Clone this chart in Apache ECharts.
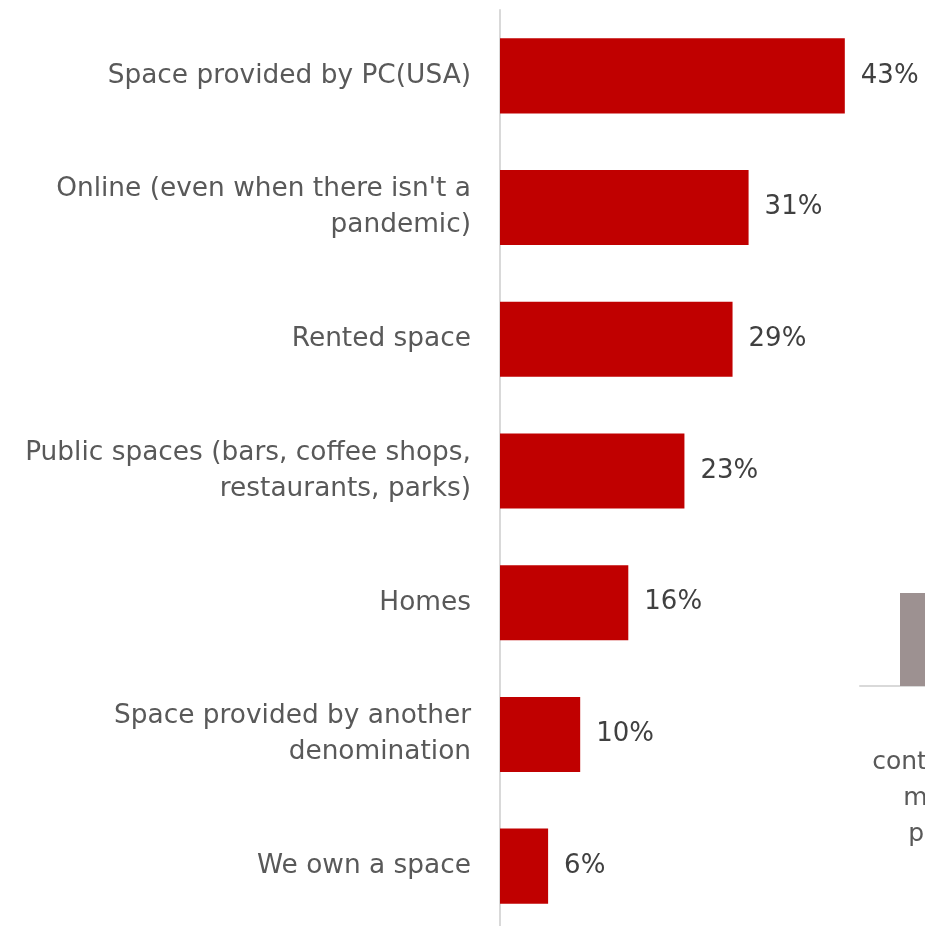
<!DOCTYPE html>
<html>
<head>
<meta charset="utf-8">
<script src="https://cdn.jsdelivr.net/npm/echarts@6/dist/echarts.min.js"></script>
<style>
  html, body { margin: 0; padding: 0; background: #ffffff; }
  #chart { width: 925px; height: 926px; }
</style>
</head>
<body>
<div id="chart"></div>
<script>
// Where worshiping communities meet
const categories = [
  'Space provided by PC(USA)',
  "Online (even when there isn't a\npandemic)",
  'Rented space',
  'Public spaces (bars, coffee shops,\nrestaurants, parks)',
  'Homes',
  'Space provided by another\ndenomination',
  'We own a space'
];
const shares = [43, 31, 29, 23, 16, 10, 6];

// Neighbouring panel, running off the right edge
const sideCategories = ['continued to\nmeet in\nperson'];
const sideValues = [25];

const FONT = '"DejaVu Sans", "Liberation Sans", sans-serif';

const chart = echarts.init(document.getElementById('chart'), null, { renderer: 'canvas' });

chart.setOption({
  animation: false,
  backgroundColor: '#ffffff',
  grid: [
    { left: 500, top: 10, width: 425, height: 922, containLabel: false, outerBoundsMode: 'none' },
    { left: 860, top: 500, width: 182, height: 186, containLabel: false, outerBoundsMode: 'none' }
  ],
  xAxis: [
    {
      gridIndex: 0, type: 'value', min: 0, max: 53,
      show: false
    },
    {
      gridIndex: 1, type: 'category', data: sideCategories,
      axisLine: { show: true, lineStyle: { color: '#d9d9d9', width: 2 } },
      axisTick: { show: false },
      axisLabel: {
        color: '#595959', fontFamily: FONT, fontSize: 25, lineHeight: 36,
        margin: 58, interval: 0
      }
    }
  ],
  yAxis: [
    {
      gridIndex: 0, type: 'category', data: categories, inverse: true,
      axisLine: { show: true, lineStyle: { color: '#d9d9d9', width: 2 } },
      axisTick: { show: false },
      splitLine: { show: false },
      axisLabel: {
        color: '#595959', fontFamily: FONT, fontSize: 26.4, lineHeight: 36,
        margin: 29, align: 'right', interval: 0
      }
    },
    {
      gridIndex: 1, type: 'value', min: 0, max: 50,
      show: false
    }
  ],
  series: [
    {
      type: 'bar',
      xAxisIndex: 0, yAxisIndex: 0,
      data: shares,
      barWidth: '57%',
      itemStyle: { color: '#C00000' },
      label: {
        show: true, position: 'right', distance: 16,
        formatter: p => p.value + '%',
        color: '#404040', fontFamily: FONT, fontSize: 26
      }
    },
    {
      type: 'bar',
      xAxisIndex: 1, yAxisIndex: 1,
      data: sideValues,
      barWidth: 102,
      itemStyle: { color: '#9d9191' }
    }
  ]
});
</script>
</body>
</html>
